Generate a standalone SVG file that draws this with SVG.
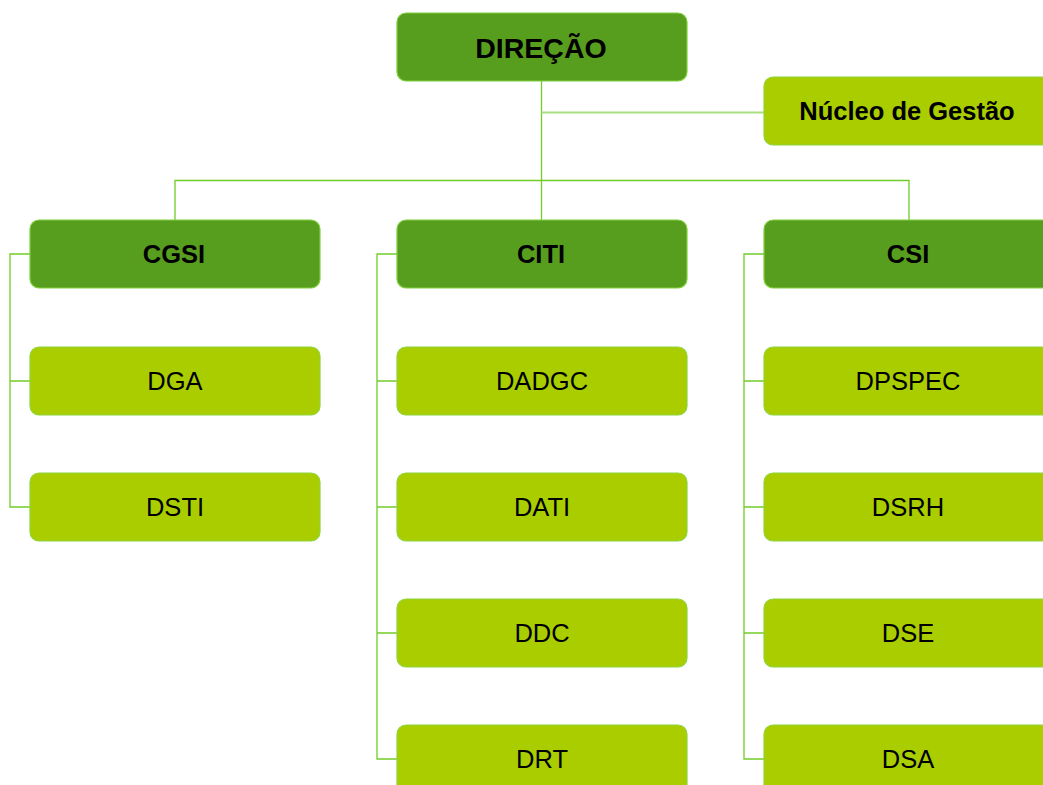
<svg xmlns="http://www.w3.org/2000/svg" width="1043" height="785" viewBox="0 0 1043 785">
<style>
.dark{fill:#589e1e;stroke:#7fd03c;stroke-width:1.2}
.light{fill:#aacd00;stroke:#8ed43c;stroke-width:1.2}
.tb{font-family:"Liberation Sans",Arial,sans-serif;font-weight:bold;font-size:25.5px;fill:#000;text-anchor:middle}
.tn{font-family:"Liberation Sans",Arial,sans-serif;font-size:25.5px;fill:#000;text-anchor:middle}
.big{font-size:28.5px}
.ln{fill:none;stroke:#72cc28;stroke-width:1.3}
</style>
<rect width="1043" height="785" fill="#fff"/>
<g id="connectors" class="ln">
<path d="M541.5 81V221"/>
<path d="M541.5 112.5H764" stroke="#a8e080" stroke-width="2"/>
<path d="M175 221V180.5H909V221"/>
<path d="M30 254H10V507H30M10 381H30"/>
<path d="M397 254H377V759H397M377 381H397M377 507H397M377 633H397"/>
<path d="M764 254H744V759H764M744 381H764M744 507H764M744 633H764"/>
</g>
<g id="direcao"><rect class="dark" x="397" y="13" width="290" height="68" rx="9"/><text class="tb big" x="541" y="57.5">DIREÇÃO</text></g>
<g id="nucleo"><rect class="light" x="764" y="77" width="290" height="68" rx="9"/><text class="tb" x="907" y="120">Núcleo de Gestão</text></g>
<g id="cgsi"><rect class="dark" x="30" y="220" width="290" height="68" rx="9"/><text class="tb" x="174" y="263">CGSI</text></g>
<g id="citi"><rect class="dark" x="397" y="220" width="290" height="68" rx="9"/><text class="tb" x="541" y="263">CITI</text></g>
<g id="csi"><rect class="dark" x="764" y="220" width="290" height="68" rx="9"/><text class="tb" x="908" y="263">CSI</text></g>
<g id="dga"><rect class="light" x="30" y="347" width="290" height="68" rx="9"/><text class="tn" x="175" y="390">DGA</text></g>
<g id="dsti"><rect class="light" x="30" y="473" width="290" height="68" rx="9"/><text class="tn" x="175" y="516">DSTI</text></g>
<g id="dadgc"><rect class="light" x="397" y="347" width="290" height="68" rx="9"/><text class="tn" x="542" y="390">DADGC</text></g>
<g id="dati"><rect class="light" x="397" y="473" width="290" height="68" rx="9"/><text class="tn" x="542" y="516">DATI</text></g>
<g id="ddc"><rect class="light" x="397" y="599" width="290" height="68" rx="9"/><text class="tn" x="542" y="642">DDC</text></g>
<g id="drt"><rect class="light" x="397" y="725" width="290" height="68" rx="9"/><text class="tn" x="542" y="768">DRT</text></g>
<g id="dpspec"><rect class="light" x="764" y="347" width="290" height="68" rx="9"/><text class="tn" x="908" y="390">DPSPEC</text></g>
<g id="dsrh"><rect class="light" x="764" y="473" width="290" height="68" rx="9"/><text class="tn" x="908" y="516">DSRH</text></g>
<g id="dse"><rect class="light" x="764" y="599" width="290" height="68" rx="9"/><text class="tn" x="908" y="642">DSE</text></g>
<g id="dsa"><rect class="light" x="764" y="725" width="290" height="68" rx="9"/><text class="tn" x="908" y="768">DSA</text></g>
</svg>
